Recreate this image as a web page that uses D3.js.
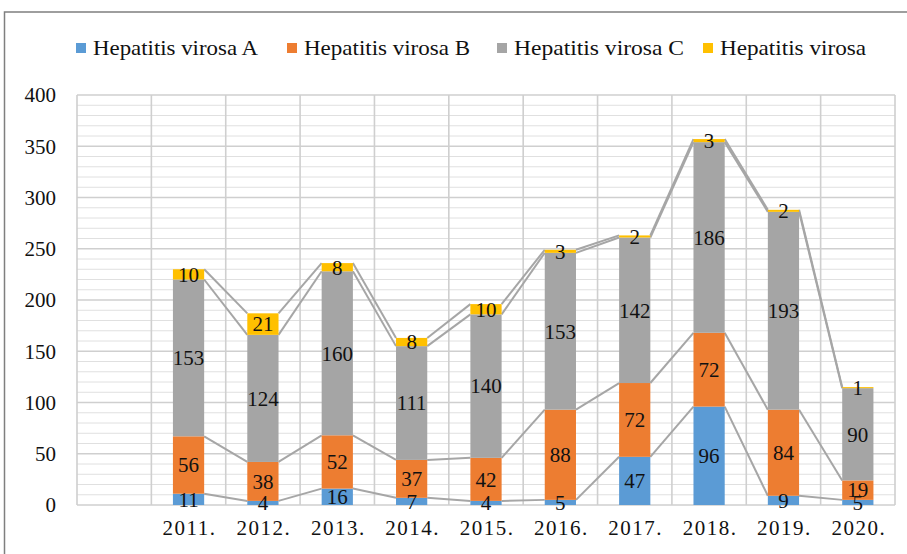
<!DOCTYPE html>
<html>
<head>
<meta charset="utf-8">
<style>
  body { margin: 0; background: #fff; }
  text { font-family: "Liberation Serif", "Times New Roman", serif; fill: #111; }
</style>
</head>
<body>
<svg width="907" height="554"></svg>
<script src="https://d3js.org/d3.v7.min.js"></script>
<script>

    // data
    var years = ["", "2011.", "2012.", "2013.", "2014.", "2015.", "2016.", "2017.", "2018.", "2019.", "2020."];
    var seriesNames = ["Hepatitis virosa A", "Hepatitis virosa B", "Hepatitis virosa C", "Hepatitis virosa"];
    var hepA = [null, 11, 4, 16, 7, 4, 5, 47, 96, 9, 5];
    var hepB = [null, 56, 38, 52, 37, 42, 88, 72, 72, 84, 19];
    var hepC = [null, 153, 124, 160, 111, 140, 153, 142, 186, 193, 90];
    var hepX = [null, 10, 21, 8, 8, 10, 3, 2, 3, 2, 1];
    var yTicks = [0, 50, 100, 150, 200, 250, 300, 350, 400];
    var colors = ["#5B9BD5", "#ED7D31", "#A5A5A5", "#FFC000"];

    var svg = d3.select("svg");

    /* --------------------
     Frame
   -------------------- */
    svg.append("rect")
        .attr("x", 4.5).attr("y", 12)
        .attr("width", 920).attr("height", 600)
        .attr("fill", "none")
        .attr("stroke", "#7f7f7f")
        .attr("stroke-width", 1.5);

    var x = d3.scaleBand().domain(years).range([77, 895]).padding(0),
        y = d3.scaleLinear().domain([0, 400]).range([505, 95]);

    var barW = x.bandwidth() * 0.42;

    // minor grid
    svg.append("g").selectAll("line")
        .data(d3.range(10, 400, 10).filter(function(v) { return v % 50 !== 0; }))
        .enter().append("line")
        .attr("x1", 77).attr("x2", 895)
        .attr("y1", function(d) { return y(d); })
        .attr("y2", function(d) { return y(d); })
        .attr("stroke", "#e0e0e0")
        .attr("stroke-width", 1);

    // major grid
    svg.append("g").selectAll("line")
        .data(yTicks)
        .enter().append("line")
        .attr("x1", 77).attr("x2", 895)
        .attr("y1", function(d) { return y(d); })
        .attr("y2", function(d) { return y(d); })
        .attr("stroke", "#cfcfcf")
        .attr("stroke-width", 1.6);

    // vertical grid
    svg.append("g").selectAll("line")
        .data(years.map(function(d) { return x(d); }).concat([895]))
        .enter().append("line")
        .attr("x1", function(d) { return d; })
        .attr("x2", function(d) { return d; })
        .attr("y1", y(400)).attr("y2", y(0))
        .attr("stroke", "#cfcfcf")
        .attr("stroke-width", 1.6);

    // y tick labels
    svg.append("g").selectAll("text")
        .data(yTicks)
        .enter().append("text")
        .attr("x", 56)
        .attr("y", function(d) { return y(d); })
        .attr("dy", "0.35em")
        .attr("text-anchor", "end")
        .style("font-size", "21px")
        .text(function(d) { return d; });

    // x labels
    svg.append("g").selectAll("text")
        .data(years)
        .enter().append("text")
        .attr("x", function(d) { return x(d) + x.bandwidth() / 2 + 1; })
        .attr("y", 535)
        .attr("text-anchor", "middle")
        .style("font-size", "21px")
        .style("letter-spacing", "1.5px")
        .text(function(d) { return d; });

    // stack
    var rows = years.map(function(yr, i) {
        return { year: yr, a: hepA[i] || 0, b: hepB[i] || 0, c: hepC[i] || 0, d: hepX[i] || 0, empty: hepA[i] == null };
    });
    var stack = d3.stack().keys(["a", "b", "c", "d"])(rows);

    // series lines (connect tops of each stacked segment)
    stack.forEach(function(layer) {
        for (var i = 1; i < layer.length - 1; i++) {
            if (rows[i].empty || rows[i + 1].empty) continue;
            svg.append("line")
                .attr("x1", x(years[i]) + x.bandwidth() / 2 + barW / 2)
                .attr("y1", y(layer[i][1]))
                .attr("x2", x(years[i + 1]) + x.bandwidth() / 2 - barW / 2)
                .attr("y2", y(layer[i + 1][1]))
                .attr("stroke", "#a6a6a6")
                .attr("stroke-width", 2);
        }
    });

    // bars
    stack.forEach(function(layer, k) {
        svg.append("g").selectAll("rect")
            .data(layer.filter(function(d, i) { return !rows[i].empty; }))
            .enter().append("rect")
            .attr("x", function(d) { return x(d.data.year) + x.bandwidth() / 2 - barW / 2; })
            .attr("width", barW)
            .attr("y", function(d) { return y(d[1]); })
            .attr("height", function(d) { return y(d[0]) - y(d[1]); })
            .attr("fill", colors[k]);
    });

    // value labels
    stack.forEach(function(layer, k) {
        svg.append("g").selectAll("text")
            .data(layer.filter(function(d, i) { return !rows[i].empty; }))
            .enter().append("text")
            .attr("x", function(d) { return x(d.data.year) + x.bandwidth() / 2; })
            .attr("y", function(d) { return y((d[0] + d[1]) / 2); })
            .attr("dy", "0.35em")
            .attr("text-anchor", "middle")
            .style("font-size", "21px")
            .text(function(d) { return d[1] - d[0]; });
    });

    // legend
    var legX = [76, 287, 497, 703];
    var legW = [165, 166, 170, 146];
    var leg = svg.append("g").selectAll("g")
        .data(seriesNames)
        .enter().append("g")
        .attr("transform", function(d, i) { return "translate(" + legX[i] + ",43)"; });
    leg.append("rect")
        .attr("width", 10).attr("height", 10)
        .attr("fill", function(d, i) { return colors[i]; });
    leg.append("text")
        .attr("x", 17).attr("y", 5)
        .attr("dy", "0.35em")
        .attr("textLength", function(d, i) { return legW[i]; })
        .attr("lengthAdjust", "spacingAndGlyphs")
        .style("font-size", "21px")
        .text(function(d) { return d; });

</script>
</body>
</html>
